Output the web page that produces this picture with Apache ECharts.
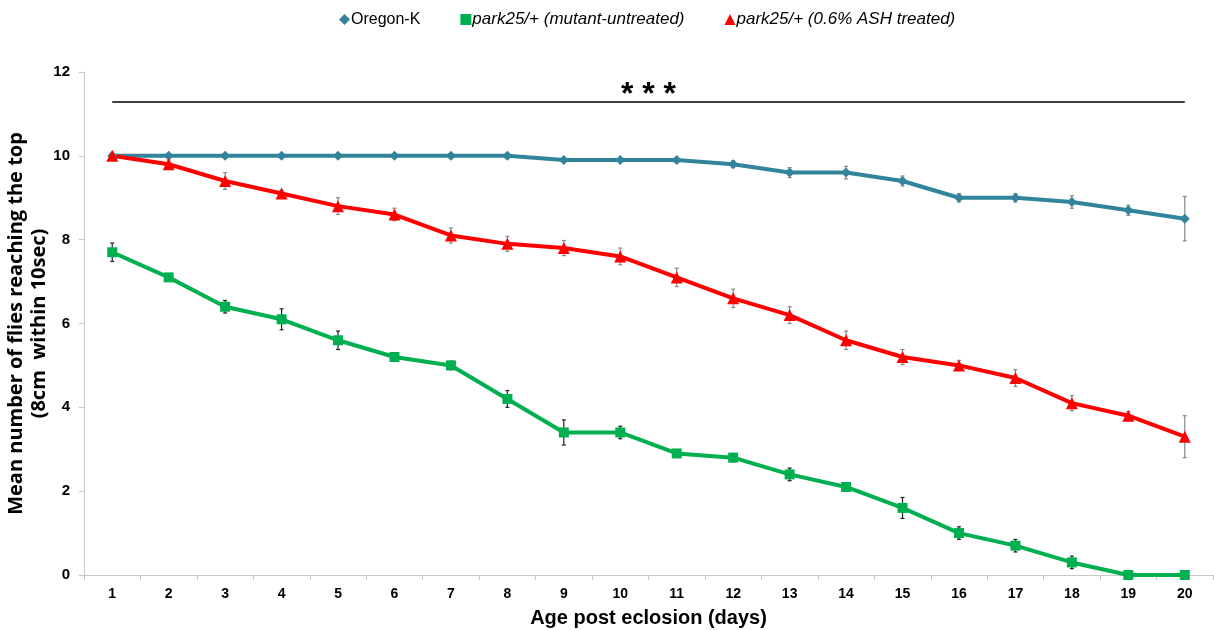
<!DOCTYPE html>
<html><head><meta charset="utf-8">
<script src="https://cdn.jsdelivr.net/npm/echarts@6/dist/echarts.min.js"></script>
<style>html,body{margin:0;padding:0;background:#fff}#c{width:1214px;height:630px}</style>
</head><body><div id="c"></div>
<script>
const days = ['1','2','3','4','5','6','7','8','9','10','11','12','13','14','15','16','17','18','19','20'];
const oregon = [10,10,10,10,10,10,10,10,9.9,9.9,9.9,9.8,9.6,9.6,9.4,9.0,9.0,8.9,8.7,8.5];
const oregonErr = [0.03,0.03,0.03,0.03,0.03,0.03,0.03,0.03,0.05,0.05,0.05,0.08,0.12,0.15,0.12,0.1,0.1,0.15,0.12,0.53];
const mutant = [7.7,7.1,6.4,6.1,5.6,5.2,5.0,4.2,3.4,3.4,2.9,2.8,2.4,2.1,1.6,1.0,0.7,0.3,0,0];
const mutantErr = [0.22,0.05,0.15,0.25,0.22,0.1,0.1,0.2,0.3,0.15,0.08,0.1,0.15,0.05,0.25,0.15,0.15,0.15,0,0];
const treated = [10,9.8,9.4,9.1,8.8,8.6,8.1,7.9,7.8,7.6,7.1,6.6,6.2,5.6,5.2,5.0,4.7,4.1,3.8,3.3];
const treatedErr = [0.05,0.1,0.2,0.08,0.2,0.15,0.18,0.18,0.18,0.2,0.22,0.22,0.2,0.22,0.18,0.12,0.2,0.18,0.1,0.5];
const sigLevel = 11.3;
const yTicks = [0,2,4,6,8,10,12];

const chart = echarts.init(document.getElementById('c'));
function errSeries(vals, errs, color){
  return {
    type:'custom', silent:true, z:1,
    data: vals.map((v,i)=>[i, v, errs[i]]),
    renderItem: function(params, api){
      const i = api.value(0), v = api.value(1), e = api.value(2);
      if (!e) return null;
      const top = api.coord([i, v+e]), bot = api.coord([i, v-e]);
      const st = {stroke: color, lineWidth: 1.2};
      return {type:'group', children:[
        {type:'line', shape:{x1:top[0],y1:top[1],x2:bot[0],y2:bot[1]}, style:st},
        {type:'line', shape:{x1:top[0]-2,y1:top[1],x2:top[0]+2,y2:top[1]}, style:st},
        {type:'line', shape:{x1:bot[0]-2,y1:bot[1],x2:bot[0]+2,y2:bot[1]}, style:st}
      ]};
    }
  };
}
const sans = 'Liberation Sans, Arial, sans-serif';
chart.setOption({
  animation:false,
  grid:{left:84, right:1, top:72, bottom:55, outerBoundsMode:'none', containLabel:false},
  legend:{
    top:6, left:334, itemWidth:11, itemHeight:11, itemGap:40,
    data:[
      {name:'Oregon-K', icon:'diamond'},
      {name:'park25/+ (mutant-untreated)', icon:'rect'},
      {name:'park25/+ (0.6% ASH treated)', icon:'triangle'}
    ],
    formatter: function(n){ return n==='Oregon-K' ? '{n|'+n+'}' : '{i|'+n+'}'; },
    textStyle:{
      rich:{
        n:{fontFamily:sans, fontSize:16, color:'#000', padding:[0,0,0,-4]},
        i:{fontFamily:sans, fontSize:17, fontStyle:'italic', color:'#000', padding:[0,0,0,-4]}
      }
    }
  },
  xAxis:{
    type:'category', data:days, boundaryGap:true,
    name:'Age post eclosion (days)', nameLocation:'middle', nameGap:33,
    nameTextStyle:{fontFamily:sans, fontWeight:'bold', fontSize:20, color:'#000'},
    axisLine:{lineStyle:{color:'#c8c8c8', width:1}},
    axisTick:{show:true, alignWithLabel:false, length:5, lineStyle:{color:'#c8c8c8'}},
    axisLabel:{fontFamily:sans, fontWeight:'bold', fontSize:14, color:'#000', margin:12}
  },
  yAxis:{
    type:'value', min:0, max:12, interval:2,
    name:'Mean number of flies reaching the top\n(8cm  within 10sec)', nameLocation:'middle', nameGap:33,
    nameMoveOverlap:false,
    nameTextStyle:{fontFamily:'Open Sans, Liberation Sans, sans-serif', fontWeight:'bold', fontSize:20, color:'#000', lineHeight:23},
    axisLine:{show:true, lineStyle:{color:'#c8c8c8', width:1}},
    axisTick:{show:true, length:5, lineStyle:{color:'#c8c8c8'}},
    splitLine:{show:false},
    axisLabel:{fontFamily:sans, fontWeight:'bold', fontSize:15, color:'#000', margin:14,
      formatter: v => yTicks.includes(v) ? String(v) : ''}
  },
  series:[
    errSeries(oregon, oregonErr, '#888888'),
    errSeries(treated, treatedErr, '#888888'),
    errSeries(mutant, mutantErr, '#222222'),
    {name:'Oregon-K', type:'line', data:oregon, symbol:'diamond', symbolSize:10, z:3,
      lineStyle:{color:'#31849B', width:4}, itemStyle:{color:'#31849B'},
      markLine:{silent:true, symbol:'none',
        lineStyle:{color:'#000', width:1.5, type:'solid'},
        label:{show:true, position:'middle', formatter:'* * *', fontSize:32, fontWeight:'bold', color:'#000', distance:-10, fontFamily:sans},
        data:[[{coord:['1',sigLevel]},{coord:['20',sigLevel]}]]}},
    {name:'park25/+ (mutant-untreated)', type:'line', data:mutant, symbol:'rect', symbolSize:10, z:3,
      lineStyle:{color:'#00B050', width:4}, itemStyle:{color:'#00B050'}},
    {name:'park25/+ (0.6% ASH treated)', type:'line', data:treated, symbol:'triangle', symbolSize:12, z:3,
      lineStyle:{color:'#FF0000', width:4}, itemStyle:{color:'#FF0000'}}
  ]
});
</script></body></html>
